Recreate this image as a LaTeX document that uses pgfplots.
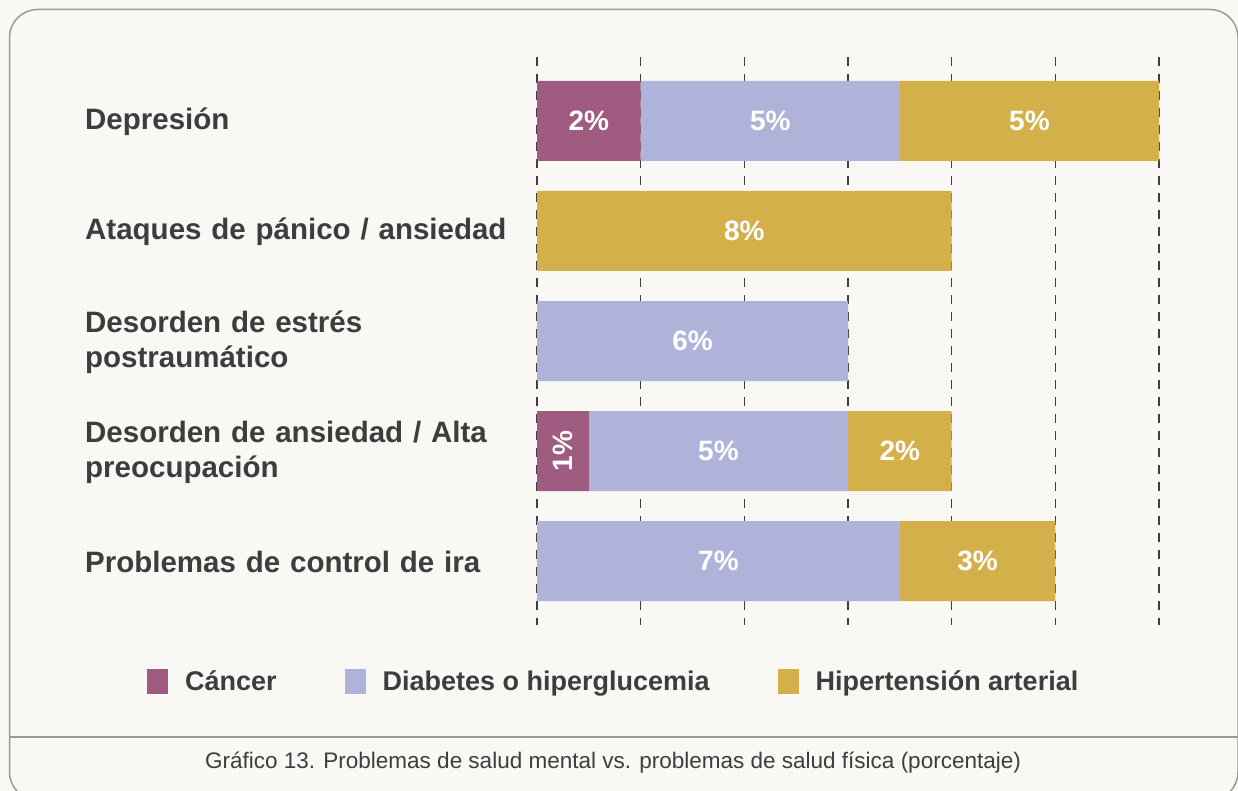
\documentclass[border=0pt]{standalone}
\usepackage{fontspec}
\setmainfont{Liberation Sans}
\usepackage{pgfplots}
\pgfplotsset{compat=1.18}
\definecolor{bg}{HTML}{F9F8F4}
\definecolor{canc}{HTML}{A05C80}
\definecolor{diab}{HTML}{B0B3D9}
\definecolor{hyp}{HTML}{D4B04B}
\definecolor{txt}{HTML}{3D3D3D}
\definecolor{frame}{HTML}{9A9A9A}
\definecolor{gridc}{HTML}{3F3F3F}
\begin{document}
\begin{tikzpicture}[x=1bp,y=-1bp]
\fill[bg] (0,0) rectangle (1238,791);
\path[use as bounding box] (0,0) rectangle (1238,791);
\draw[frame, line width=1.5bp, rounded corners=28bp] (9.5,9.5) rectangle (1238,800);
\draw[frame, line width=1.8bp] (9.5,737) -- (1238,737);
\begin{axis}[
  at={(537bp,-57bp)}, anchor=north west,
  scale only axis, width=622bp, height=568bp,
  xbar stacked, bar width=80bp,
  xmin=0, xmax=12, ymin=-0.58, ymax=4.58, y dir=reverse,
  axis line style={draw=none},
  major tick length=0pt,
  xtick={2,4,...,12}, xticklabels={},
  xmajorgrids,
  major x grid style={gridc, line width=1.3bp, dash pattern=on 9bp off 8bp},
  extra x ticks={0}, extra x tick labels={},
  extra x tick style={grid style={solid, black, line width=1.3bp}},
  ytick={0,1,2,3,4},
  yticklabels={Depresión, Ataques de pánico / ansiedad, {Desorden de estrés\\postraumático}, {Desorden de ansiedad / Alta\\preocupación}, Problemas de control de ira},
  yticklabel style={anchor=west, xshift=-452bp, yshift=-1bp, inner sep=0pt, text width=440bp, align=left,
    font=\fontsize{29.5bp}{35bp}\selectfont\bfseries, text=txt},
  nodes near coords, point meta=explicit symbolic,
  every node near coord/.append style={anchor=center, text=white,
    font=\fontsize{28bp}{32bp}\selectfont\bfseries},
  legend columns=3,
  legend style={at={(-0.632,-0.0986)}, anchor=west, draw=none, fill=none,
    font=\fontsize{27bp}{32bp}\selectfont\bfseries, text=txt,
    nodes={inner sep=0pt}, cells={anchor=base west},
    /tikz/every odd column/.append style={column sep=17bp},
    /tikz/every even column/.append style={column sep=68bp}},
  legend image code/.code={\fill[#1] (0bp,-3bp) rectangle (21bp,22bp);},
]
\addplot[fill=canc, draw=none] coordinates {(2,0) [2\%] (0,1) [] (0,2) [] (1,3) [\rotatebox{90}{1\%}] (0,4) []};
\addplot[fill=diab, draw=none] coordinates {(5,0) [5\%] (0,1) [] (6,2) [6\%] (5,3) [5\%] (7,4) [7\%]};
\addplot[fill=hyp, draw=none] coordinates {(5,0) [5\%] (8,1) [8\%] (0,2) [] (2,3) [2\%] (3,4) [3\%]};
\legend{Cáncer, Diabetes o hiperglucemia, Hipertensión arterial}
\end{axis}
\node[font=\fontsize{22.5bp}{26bp}\selectfont, text=txt] at (613,763) {Gráfico 13. Problemas de salud mental vs. problemas de salud física (porcentaje)};
\end{tikzpicture}
\end{document}
